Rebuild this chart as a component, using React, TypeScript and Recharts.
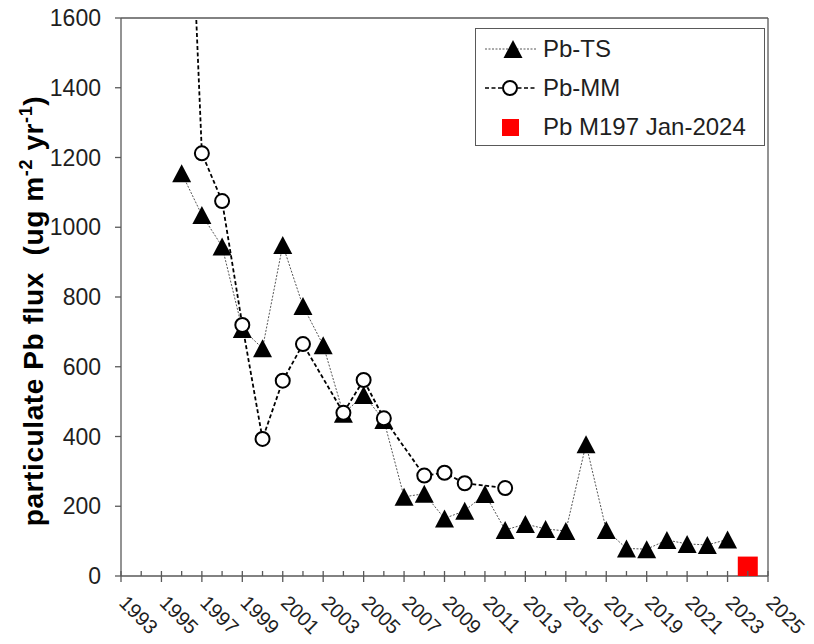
import { ComposedChart, Line, XAxis, YAxis, ReferenceLine, Legend } from "recharts";

const AXIS = "#595959";
const INK = "#1f1f1f";
const RED = "#ff0000";

const YEARS = [
  1996, 1997, 1998, 1999, 2000, 2001, 2002, 2003, 2004, 2005, 2006, 2007, 2008, 2009, 2010,
  2011, 2012, 2013, 2014, 2015, 2016, 2017, 2018, 2019, 2020, 2021, 2022, 2023, 2024,
];
const PB_TS = [
  1155, 1035, 945, 708, 653, 949, 774, 662, 465, 519, 447, 227, 236, 165, 187,
  235, 132, 149, 135, 129, 378, 132, 79, 77, 103, 92, 89, 105, null,
];
const PB_MM = [
  2600, 1212, 1075, 720, 393, 560, 665, null, 468, 562, 452, null, 288, 296, 266,
  null, 252, null, null, null, null, null, null, null, null, null, null, null, null,
];
const PB_M197 = [
  null, null, null, null, null, null, null, null, null, null, null, null, null, null, null,
  null, null, null, null, null, null, null, null, null, null, null, null, null, 27,
];

const X_TICKS = [
  1993, 1994, 1995, 1996, 1997, 1998, 1999, 2000, 2001, 2002, 2003, 2004, 2005, 2006, 2007,
  2008, 2009, 2010, 2011, 2012, 2013, 2014, 2015, 2016, 2017, 2018, 2019, 2020, 2021, 2022,
  2023, 2024, 2025,
];
const Y_TICKS = [0, 200, 400, 600, 800, 1000, 1200, 1400, 1600];

const data = YEARS.map((year, i) => ({
  year,
  ts: PB_TS[i],
  mm: PB_MM[i],
  m197: PB_M197[i],
}));

// odd years get a labelled tick that crosses the axis, even years a short inner one
function YearTick({ x, y, payload }: any) {
  const yr = payload.value as number;
  const major = yr % 2 === 1;
  const ax = x - 3;
  const ay = y + 28;
  return (
    <g>
      <line x1={x} x2={x} y1={y - 5} y2={major ? y + 6 : y} stroke={AXIS} strokeWidth={1.3} />
      {major && (
        <text x={ax} y={ay} fontSize={20} fill={INK} textAnchor="start" transform={`rotate(45 ${ax} ${ay})`}>
          {yr}
        </text>
      )}
    </g>
  );
}

function Triangle({ cx, cy }: any) {
  if (cx == null || cy == null) return <g />;
  return (
    <polygon
      points={`${cx},${cy - 9} ${cx + 9.5},${cy + 9} ${cx - 9.5},${cy + 9}`}
      fill="#000"
    />
  );
}

function Ring({ cx, cy }: any) {
  if (cx == null || cy == null) return <g />;
  return <circle cx={cx} cy={cy} r={7} fill="#fff" stroke="#000" strokeWidth={2} />;
}

function Square({ cx, cy }: any) {
  if (cx == null || cy == null) return <g />;
  return <rect x={cx - 10} y={cy - 10} width={20} height={20} fill={RED} />;
}

function LegendBox() {
  return (
    <div
      style={{
        width: 290,
        height: 118,
        border: `1.5px solid ${AXIS}`,
        boxSizing: "border-box",
        background: "#fff",
      }}
    >
      <svg width={287} height={115} style={{ display: "block" }}>
        <line x1={9} x2={60} y1={20} y2={20} stroke="#555" strokeWidth={1} strokeDasharray="2 1.5" />
        <polygon points="37,11 46.5,29 27.5,29" fill="#000" />
        <text x={67} y={20} dy="0.35em" fontSize={24} fill={INK}>Pb-TS</text>

        <line x1={9} x2={60} y1={59} y2={59} stroke="#000" strokeWidth={1.5} strokeDasharray="4 2.5" />
        <circle cx={34} cy={59} r={7} fill="#fff" stroke="#000" strokeWidth={2} />
        <text x={67} y={59} dy="0.35em" fontSize={24} fill={INK}>Pb-MM</text>

        <rect x={26} y={90} width={17} height={17} fill={RED} />
        <text x={67} y={98} dy="0.35em" fontSize={24} fill={INK}>Pb M197 Jan-2024</text>
      </svg>
    </div>
  );
}

export default function App() {
  return (
    <div
      style={{
        position: "absolute",
        left: 0,
        top: 0,
        width: 814,
        height: 644,
        background: "#fff",
        fontFamily: "'Liberation Sans', Arial, sans-serif",
      }}
    >
      <ComposedChart width={814} height={644} data={data} margin={{ top: 18, right: 46, bottom: 8, left: 61 }}>
        <XAxis
          dataKey="year"
          type="number"
          domain={[1993, 2025]}
          ticks={X_TICKS}
          interval={0}
          height={60}
          tickLine={false}
          tickSize={0}
          tickMargin={0}
          axisLine={{ stroke: AXIS, strokeWidth: 1.3 }}
          tick={<YearTick />}
        />
        <YAxis
          type="number"
          domain={[0, 1600]}
          ticks={Y_TICKS}
          allowDataOverflow
          width={60}
          tickSize={6}
          tickMargin={14}
          axisLine={{ stroke: AXIS, strokeWidth: 1.3 }}
          tickLine={{ stroke: AXIS, strokeWidth: 1.3 }}
          tick={{ fill: INK, fontSize: 23 }}
        />
        <ReferenceLine y={1600} stroke={AXIS} strokeWidth={1.3} />
        <ReferenceLine x={2025} stroke={AXIS} strokeWidth={1.3} />
        <Line
          dataKey="ts"
          name="Pb-TS"
          stroke="#555"
          strokeWidth={1}
          strokeDasharray="2 1.5"
          dot={<Triangle />}
          activeDot={false}
          isAnimationActive={false}
        />
        <Line
          dataKey="mm"
          name="Pb-MM"
          stroke="#000"
          strokeWidth={1.8}
          strokeDasharray="4 2.5"
          connectNulls
          dot={<Ring />}
          activeDot={false}
          isAnimationActive={false}
        />
        <Line
          dataKey="m197"
          name="Pb M197 Jan-2024"
          stroke="none"
          dot={<Square />}
          activeDot={false}
          isAnimationActive={false}
        />
        <Legend
          layout="vertical"
          align="center"
          verticalAlign="middle"
          content={() => <LegendBox />}
          wrapperStyle={{ position: "absolute", left: 475, top: 28, width: 290, height: 118 }}
        />
      </ComposedChart>
      <svg
        width={70}
        height={644}
        style={{ position: "absolute", left: 0, top: 0, pointerEvents: "none" }}
      >
        <text
          x={43}
          y={311}
          transform="rotate(-90 43 311)"
          textAnchor="middle"
          fontSize={28}
          fontWeight="bold"
          fill="#000"
          letterSpacing={0.6}
          style={{ whiteSpace: "pre" }}
        >
          <tspan>particulate Pb flux  (ug m</tspan>
          <tspan fontSize={18} dy={-11}>-2</tspan>
          <tspan dy={11}> yr</tspan>
          <tspan fontSize={18} dy={-11}>-1</tspan>
          <tspan dy={11}>)</tspan>
        </text>
      </svg>
    </div>
  );
}
